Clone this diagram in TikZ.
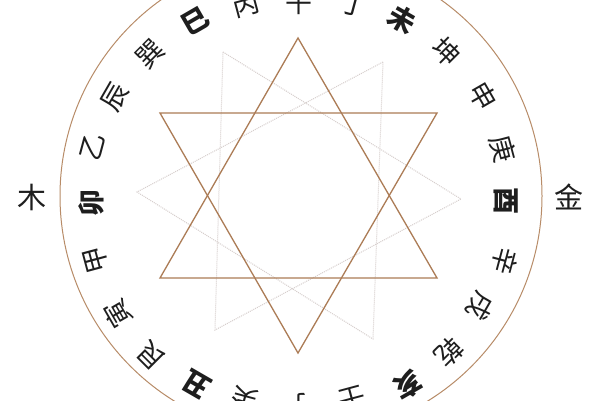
\documentclass[tikz,border=0pt]{standalone}
\usepackage{fontspec}
\newfontfamily\cjk{Noto Sans CJK SC}
\definecolor{ringbrown}{RGB}{184,140,104}
\definecolor{starbrown}{RGB}{172,124,86}
\definecolor{starlight}{RGB}{214,206,204}
\definecolor{ink}{RGB}{30,30,30}
\tikzset{
  lab/.style={inner sep=0pt, text=ink, font=\cjk\fontsize{27}{27}\selectfont},
  yin/.style={font=\cjk\bfseries\fontsize{27}{27}\selectfont},
  side/.style={inner sep=0pt, text=ink, font=\cjk\fontsize{29}{29}\selectfont},
  ring/.style={draw=ringbrown, line width=1pt},
  bigstar/.style={draw=starbrown, line width=1.3pt, line join=miter},
  faintstar/.style={draw=starlight, line width=1pt, densely dotted},
}
\begin{document}
\begin{tikzpicture}[x=1pt,y=-1pt]
\useasboundingbox (0,0) rectangle (600,400);
\fill[white] (0,0) rectangle (600,400);
\clip (0,0) rectangle (600,400);
% outer ring
\coordinate (c) at (301,196);
\draw[ring] (c) circle[radius=241];
% faint hexagram
\coordinate (fa1) at (223,52);
\coordinate (fa2) at (461,199);
\coordinate (fa3) at (215,330);
\coordinate (fb1) at (383,62);
\coordinate (fb2) at (137,192);
\coordinate (fb3) at (373,339);
\draw[faintstar] (fa1) -- (fa2) -- (fa3) -- cycle;
\draw[faintstar] (fb1) -- (fb2) -- (fb3) -- cycle;
% brown hexagram
\coordinate (u1) at (298,38);
\coordinate (u2) at (437,278);
\coordinate (u3) at (160,278);
\coordinate (d1) at (160,113);
\coordinate (d2) at (437,113);
\coordinate (d3) at (298,353);
\draw[bigstar] (u1) -- (u2) -- (u3) -- cycle;
\draw[bigstar] (d1) -- (d2) -- (d3) -- cycle;
% twenty-four mountains (yin branches in bold)
\foreach \ch/\x/\y/\r/\st [count=\i] in {
  午/299/2/0/lab, 丁/354/5/-15/lab, 未/402/19/-30/yin, 坤/446/52/-45/lab,
  申/483/96/-60/lab, 庚/503/149/-75/lab, 酉/506/201/-90/yin, 辛/505/261/-105/lab,
  戌/480/306/-120/lab, 乾/449/352/-135/lab, 亥/408/385/-150/yin, 壬/352/399/-165/lab,
  子/299/405/180/lab, 癸/245/400/165/lab, 丑/197/385/150/yin, 艮/151/356/135/lab,
  寅/118/314/120/lab, 甲/96/260/105/lab, 卯/91/203/90/yin, 乙/93/147/75/lab,
  辰/115/97/60/lab, 巽/150/54/45/lab, 巳/195/21/30/yin, 丙/246/5/15/lab}
  \node[lab, \st, rotate=\r] (m\i) at (\x,\y) {\ch};
% elements
\node[side] (wood) at (32,197) {木};
\node[side] (metal) at (569,197) {金};
\end{tikzpicture}
\end{document}
